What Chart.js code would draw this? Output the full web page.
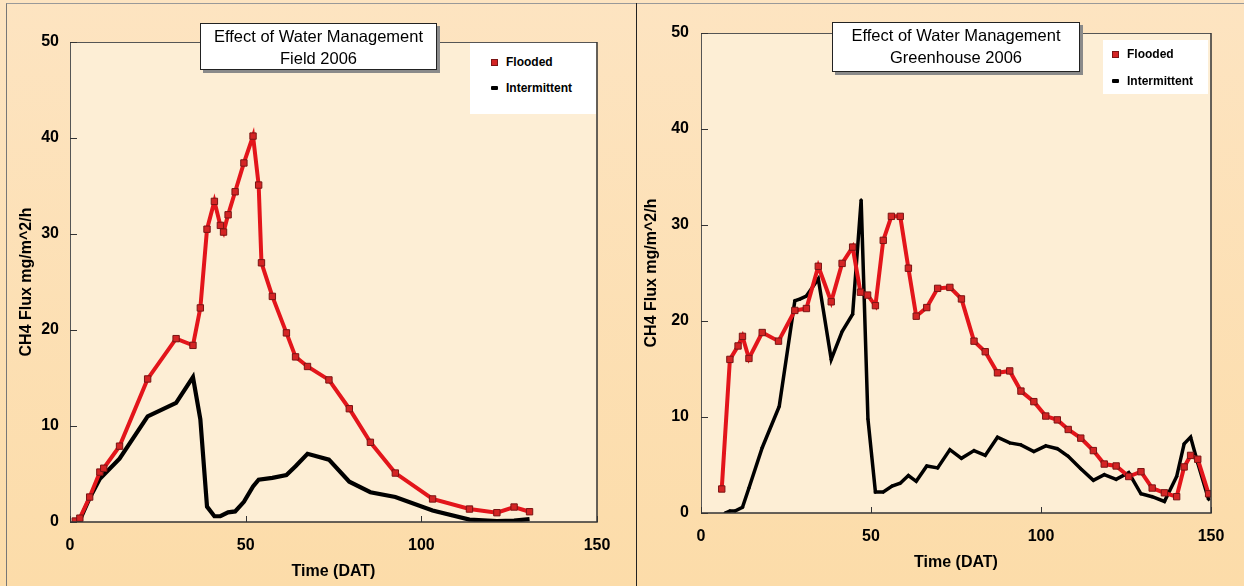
<!DOCTYPE html>
<html>
<head>
<meta charset="utf-8">
<script src="https://cdn.jsdelivr.net/npm/chart.js@4.4.1/dist/chart.umd.min.js"></script>
<style>
    html, body { margin: 0; padding: 0; }
    body {
        width: 1244px; height: 586px; position: relative; overflow: hidden;
        background: linear-gradient(to bottom, #fde4c1, #fcdca9);
        font-family: "Liberation Sans", Arial, sans-serif;
    }
    .frame { position: absolute; left: 6px; top: 3px; right: 0; bottom: 0; border-left: 1px solid #777; border-top: 1px solid #999; }
    .divider { position: absolute; left: 636px; top: 3px; width: 1px; height: 583px; background: #222; }
    canvas { position: absolute; top: 0; }
    #fieldChart { left: 0; }
    #ghChart { left: 637px; }
    .title-box {
        position: absolute; box-sizing: border-box; background: #fff;
        border: 1px solid #222; box-shadow: 3px 3px 0 #8a8a8a;
        text-align: center; font-size: 16.5px; color: #000; white-space: nowrap;
    }
    .legend-box { position: absolute; background: #fff; }
    .legend-item { position: absolute; font-size: 12px; font-weight: bold; color: #000; white-space: nowrap; }
    .legend-item .mark { position: absolute; top: 50%; }
</style>
</head>
<body>
<div class="frame"></div>
<div class="divider"></div>

<canvas id="fieldChart" width="636" height="586"></canvas>
<canvas id="ghChart" width="607" height="586"></canvas>

<div class="title-box" style="left:200px; top:23px; width:237px; height:47px; padding-top:1px; line-height:22px;">
    Effect of Water Management<br>Field 2006
</div>
<div class="title-box" style="left:832px; top:22px; width:248px; height:50px; padding-top:2px; line-height:21.5px;">
    Effect of Water Management<br>Greenhouse 2006
</div>

<div class="legend-box" id="field-legend" style="left:470px; top:43px; width:126px; height:71px;"></div>
<div class="legend-box" id="gh-legend" style="left:1103px; top:40px; width:105px; height:54px;"></div>

<script>
// Field 2006 - дни и потоки
const fieldFloodDays = [1.5, 2.8, 5.6, 8.5, 9.6, 14.1, 22.1, 30.2, 35.0, 37.1, 39.0, 41.1, 42.8, 43.7, 45.0, 47.0, 49.5, 52.1, 53.7, 54.5, 57.6, 61.6, 64.2, 67.6, 73.7, 79.5, 85.5, 92.6, 103.2, 113.7, 121.5, 126.4, 130.8];
const fieldFlooded = [0.1, 0.4, 2.6, 5.2, 5.6, 7.9, 14.9, 19.1, 18.4, 22.3, 30.5, 33.4, 30.9, 30.2, 32.0, 34.4, 37.4, 40.2, 35.1, 27.0, 23.5, 19.7, 17.2, 16.2, 14.8, 11.8, 8.3, 5.1, 2.4, 1.35, 0.97, 1.56, 1.07];
const fieldIntermDays = [1.5, 2.8, 5.6, 8.5, 14.1, 22.1, 30.2, 35.0, 37.1, 39.0, 41.1, 42.8, 45.0, 47.0, 49.5, 52.1, 53.7, 57.6, 61.6, 64.2, 67.6, 73.7, 79.5, 85.5, 92.6, 103.2, 113.7, 121.5, 126.4, 130.8];
const fieldInterm = [0, 0.2, 2.5, 4.5, 6.6, 11.0, 12.4, 15.1, 10.7, 1.6, 0.6, 0.6, 1.0, 1.1, 2.1, 3.7, 4.4, 4.6, 4.9, 5.8, 7.1, 6.5, 4.2, 3.1, 2.6, 1.2, 0.25, 0.1, 0.15, 0.3];

// Greenhouse 2006
const ghFloodDays = [6.1, 8.5, 10.9, 12.2, 14.1, 18.0, 22.8, 27.6, 31.0, 34.5, 38.3, 41.5, 44.6, 46.9, 49.0, 51.3, 53.6, 56.0, 58.6, 61.0, 63.3, 66.4, 69.6, 73.2, 76.6, 80.3, 83.6, 87.2, 90.8, 94.1, 97.9, 101.4, 104.8, 108.0, 111.7, 115.4, 118.6, 122.1, 125.8, 129.4, 132.7, 136.3, 139.9, 142.1, 144.0, 146.1, 149.3];
const ghFlooded = [2.5, 16.0, 17.4, 18.4, 16.1, 18.8, 17.9, 21.1, 21.3, 25.7, 22.0, 26.0, 27.7, 23.0, 22.7, 21.6, 28.4, 30.9, 30.9, 25.5, 20.5, 21.4, 23.4, 23.5, 22.3, 17.9, 16.8, 14.6, 14.8, 12.7, 11.6, 10.1, 9.7, 8.7, 7.8, 6.5, 5.1, 4.9, 3.8, 4.3, 2.6, 2.1, 1.7, 4.8, 6.0, 5.6, 2.0];
const ghIntermDays = [7.1, 8.5, 10.0, 12.2, 14.1, 18.0, 23.0, 27.6, 29.2, 31.0, 34.5, 38.3, 41.5, 44.6, 47.1, 49.1, 51.3, 53.6, 56.2, 58.6, 61.0, 63.3, 66.4, 69.6, 73.2, 76.6, 80.3, 83.6, 87.2, 90.8, 94.1, 97.9, 101.4, 104.8, 108.0, 111.7, 115.4, 118.6, 122.1, 125.8, 129.4, 132.7, 136.3, 139.9, 142.1, 144.0, 146.1, 149.3];
const ghInterm = [0, 0.2, 0.2, 0.6, 2.6, 6.8, 11.1, 22.1, 22.3, 22.6, 24.4, 16.0, 18.9, 20.7, 32.6, 9.8, 2.2, 2.2, 2.8, 3.1, 3.9, 3.3, 4.9, 4.7, 6.6, 5.7, 6.5, 6.0, 7.9, 7.3, 7.1, 6.4, 7.0, 6.7, 5.9, 4.6, 3.4, 4.0, 3.5, 4.2, 2.0, 1.7, 1.2, 3.8, 7.2, 7.9, 5.2, 1.4];

const xTicks = [0, 50, 100, 150];
const yTicks = [0, 10, 20, 30, 40, 50];

Chart.defaults.font.family = '"Liberation Sans", Arial, sans-serif';
Chart.defaults.color = '#000';

const toPoints = (xs, ys) => xs.map((x, i) => ({x, y: ys[i]}));

// фон области графика, рамка и короткие засечки внутрь
const plotFrame = {
    id: 'plotFrame',
    beforeDraw(chart) {
        const {ctx, chartArea: a} = chart;
        ctx.save();
        ctx.fillStyle = '#fdeed5';
        ctx.fillRect(a.left, a.top, a.width, a.height);
        ctx.restore();
    },
    afterDraw(chart) {
        const {ctx, chartArea: a, scales} = chart;
        ctx.save();
        ctx.strokeStyle = '#555';
        ctx.lineWidth = 1;
        ctx.beginPath();
        ctx.moveTo(a.left + 0.5, a.bottom);
        ctx.lineTo(a.left + 0.5, a.top + 0.5);
        ctx.lineTo(a.right, a.top + 0.5);
        ctx.stroke();
        ctx.strokeStyle = '#333';
        ctx.lineWidth = 1.5;
        ctx.beginPath();
        ctx.moveTo(a.right, a.top);
        ctx.lineTo(a.right, a.bottom);
        ctx.lineTo(a.left, a.bottom);
        ctx.stroke();

        ctx.strokeStyle = '#333';
        ctx.lineWidth = 1;
        ctx.beginPath();
        xTicks.forEach(v => {
            const px = Math.round(scales.x.getPixelForValue(v)) + 0.5;
            ctx.moveTo(px, a.bottom);
            ctx.lineTo(px, a.bottom - 6);
        });
        yTicks.forEach(v => {
            const py = Math.round(scales.y.getPixelForValue(v)) + 0.5;
            ctx.moveTo(a.left, py);
            ctx.lineTo(a.left + 7, py);
        });
        ctx.stroke();
        ctx.restore();
    }
};

function buildConfig(flooded, interm, box) {
    const tickFont = {size: 16, weight: 'bold'};
    return {
        type: 'line',
        data: {
            datasets: [
                {
                    label: 'Flooded',
                    data: flooded,
                    borderColor: '#e3151b',
                    borderWidth: 4,
                    pointStyle: 'rect',
                    pointRadius: 4.5,
                    pointBackgroundColor: '#d42424',
                    pointBorderColor: '#7a1414',
                    pointBorderWidth: 1,
                    tension: 0,
                },
                {
                    label: 'Intermittent',
                    data: interm,
                    borderColor: '#000',
                    borderWidth: box.blackWidth,
                    pointStyle: 'rectRot',
                    pointRadius: box.blackPoint,
                    pointBackgroundColor: '#000',
                    pointBorderColor: '#000',
                    pointBorderWidth: 0,
                    tension: 0,
                },
            ],
        },
        options: {
            responsive: false,
            animation: false,
            layout: {padding: {left: 0, top: box.top, right: box.right, bottom: 0}},
            plugins: {
                legend: {display: false}, // легенда в HTML
                tooltip: {enabled: false},
            },
            scales: {
                x: {
                    type: 'linear',
                    min: 0,
                    max: 150,
                    afterBuildTicks: s => { s.ticks = xTicks.map(v => ({value: v})); },
                    ticks: {font: tickFont, padding: 14, maxRotation: 0},
                    grid: {display: false, drawTicks: false},
                    border: {display: false},
                    title: {display: true, text: 'Time (DAT)', font: {size: 16, weight: 'bold'}, padding: {top: 0, bottom: box.xTitlePad}},
                    afterFit: s => { s.height = box.xHeight; },
                },
                y: {
                    min: 0,
                    max: 50,
                    afterBuildTicks: s => { s.ticks = yTicks.map(v => ({value: v})); },
                    ticks: {font: tickFont, padding: box.yTickPad},
                    grid: {display: false, drawTicks: false},
                    border: {display: false},
                    title: {display: true, text: 'CH4 Flux mg/m^2/h', font: {size: 16, weight: 'bold'}, padding: {top: box.yTitlePad, bottom: 0}},
                    afterFit: s => { s.width = box.yWidth; },
                },
            },
        },
        plugins: [plotFrame],
    };
}

// подписи легенды: цветной значок + текст
function buildLegend(container, chart, rows, textLeft) {
    container.innerHTML = '';
    chart.data.datasets.forEach((ds, i) => {
        const item = document.createElement('div');
        item.className = 'legend-item';
        item.style.left = textLeft + 'px';
        item.style.top = (rows[i] - 7) + 'px';
        item.style.height = '14px';
        item.style.lineHeight = '14px';

        const mark = document.createElement('span');
        mark.className = 'mark';
        if (ds.pointStyle === 'rect') {
            mark.style.left = '-15px';
            mark.style.width = '5px';
            mark.style.height = '5px';
            mark.style.marginTop = '-3.5px';
            mark.style.background = ds.pointBackgroundColor;
            mark.style.border = '1px solid ' + ds.pointBorderColor;
        } else {
            mark.style.left = '-15px';
            mark.style.width = '7px';
            mark.style.height = '4px';
            mark.style.marginTop = '-2px';
            mark.style.background = ds.borderColor;
            mark.style.borderRadius = '1px';
        }

        const span = document.createElement('span');
        span.textContent = ds.label;
        item.appendChild(mark);
        item.appendChild(span);
        container.appendChild(item);
    });
}

const fieldChart = new Chart(document.getElementById('fieldChart'), buildConfig(
    toPoints(fieldFloodDays, fieldFlooded),
    toPoints(fieldIntermDays, fieldInterm),
    {top: 42, right: 39, xHeight: 64, yWidth: 70, yTickPad: 11, yTitlePad: 17.4, xTitlePad: 4.4, blackWidth: 4.2, blackPoint: 0}
));

const ghChart = new Chart(document.getElementById('ghChart'), buildConfig(
    toPoints(ghFloodDays, ghFlooded),
    toPoints(ghIntermDays, ghInterm),
    {top: 33, right: 33, xHeight: 73, yWidth: 64, yTickPad: 12, yTitlePad: 5, xTitlePad: 13.4, blackWidth: 3.5, blackPoint: 2}
));

buildLegend(document.getElementById('field-legend'), fieldChart, [19, 45], 36);
buildLegend(document.getElementById('gh-legend'), ghChart, [14, 41], 24);
</script>
</body>
</html>
